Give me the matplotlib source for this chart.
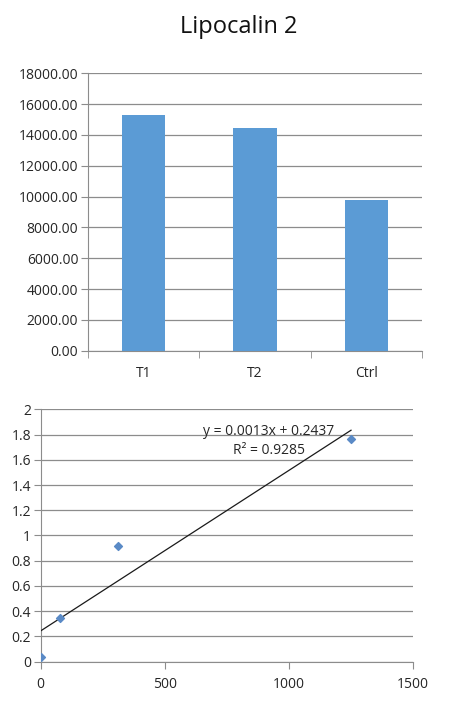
import matplotlib.pyplot as plt
import numpy as np

# bar chart data
groups = ["T1", "T2", "Ctrl"]
levels = [15290, 14450, 9780]

# standard curve data
conc = [0, 78.125, 312.5, 1250]
absorb = [0.035, 0.346, 0.917, 1.765]
eq_label = "y = 0.0013x + 0.2437"
r2_label = "R² = 0.9285"

plt.rcParams['font.family'] = ['Open Sans', 'DejaVu Sans']
gridc = '#8c8c8c'
txtc = '#262626'

fig = plt.figure(figsize=(4.72, 7.28), dpi=100)
fig.text(0.505, 0.963, "Lipocalin 2", ha='center', va='center', fontsize=17, color='#111111')

# top: bar chart
ax1 = fig.add_axes([0.1864, 0.5183, 0.7076, 0.381])
xs = np.arange(len(groups))
ax1.bar(xs, levels, width=0.39, color='#5b9bd5', zorder=3)
ax1.set_xlim(-0.5, len(groups) - 0.5)
ax1.set_ylim(0, 18000)
ax1.set_yticks(np.arange(0, 18001, 2000))
ax1.set_yticklabels([f"{v:.2f}" for v in np.arange(0, 18001, 2000)])
ax1.set_xticks(xs)
ax1.set_xticklabels(groups)
ax1.set_xticks(np.arange(-0.5, len(groups)), minor=True)
ax1.tick_params(axis='x', which='major', length=0, pad=11)
ax1.tick_params(axis='x', which='minor', length=5, color=gridc, direction='out')
ax1.tick_params(axis='y', length=5, color=gridc, pad=2)
ax1.grid(axis='y', color=gridc, linewidth=0.9, zorder=0)

# bottom: standard curve with linear trendline
ax2 = fig.add_axes([0.0862, 0.0911, 0.789, 0.3467])
ax2.scatter(conc, absorb, marker='D', s=16, color='#5a8ac6', zorder=4)
slope, icpt = np.polyfit(conc, absorb, 1)
fx = np.array([0, max(conc)])
ax2.plot(fx, slope * fx + icpt, color='#1a1a1a', linewidth=0.9, zorder=3)
ax2.text(0.436, 0.91, eq_label, transform=ax2.transAxes, va='center', fontsize=10, color=txtc)
ax2.text(0.516, 0.836, r2_label, transform=ax2.transAxes, va='center', fontsize=10, color=txtc)
ax2.set_xlim(0, 1500)
ax2.set_ylim(0, 2)
ax2.set_xticks([0, 500, 1000, 1500])
ax2.set_yticks(np.arange(0, 2.01, 0.2))
ax2.set_yticklabels(["0", "0.2", "0.4", "0.6", "0.8", "1", "1.2", "1.4", "1.6", "1.8", "2"])
ax2.tick_params(axis='x', length=5, color=gridc, pad=6)
ax2.tick_params(axis='y', length=5, color=gridc, pad=2)
ax2.grid(axis='y', color=gridc, linewidth=0.9, zorder=0)

for ax in (ax1, ax2):
    for s in ('top', 'right'):
        ax.spines[s].set_visible(False)
    for s in ('left', 'bottom'):
        ax.spines[s].set_color(gridc)
    ax.tick_params(labelsize=10, labelcolor=txtc)
    ax.set_axisbelow(True)

fig.savefig("out.png", dpi=100, facecolor='white')
